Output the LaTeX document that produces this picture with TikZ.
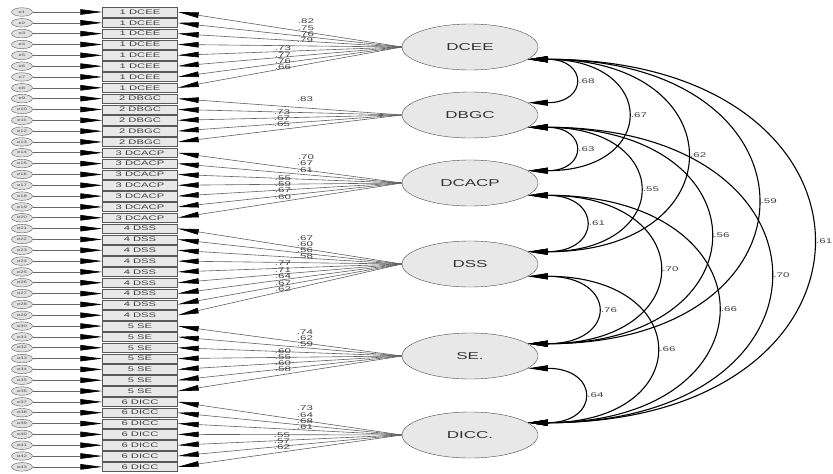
\documentclass[tikz,border=0pt]{standalone}
\usepackage{fontspec}
\setmainfont{Liberation Sans}[FakeStretch=1.7]
\usetikzlibrary{arrows.meta,shapes.geometric}

\begin{document}
\begin{tikzpicture}[x=1pt,y=-1pt,
  obs/.style={draw=black!65, fill=black!9, minimum width=75pt, minimum height=9.4pt,
    inner sep=0pt, font=\fontsize{6.6}{6.6}\selectfont, text=black!75},
  err/.style={ellipse, draw=black!65, fill=black!12, minimum width=21pt, minimum height=8.5pt,
    inner sep=0pt, font=\fontsize{3.5}{3.5}\selectfont, text=black!70},
  lat/.style={ellipse, draw=black!70, fill=black!9, minimum width=136pt, minimum height=46pt,
    inner sep=0pt, font=\fontsize{10}{10}\selectfont, text=black!80},
  load/.style={draw=black!62, line width=0.6pt, -{Triangle[length=21pt,width=5.5pt,color=black]}},
  errln/.style={draw=black!60, line width=0.6pt, -{Triangle[length=22pt,width=5.5pt,color=black]}},
  cov/.style={draw=black, line width=1.1pt,
    {Triangle[length=20pt,width=6pt]}-{Triangle[length=20pt,width=6pt]}},
  lab/.style={font=\fontsize{6.8}{6.8}\selectfont, text=black!75, inner sep=0pt},
]
\useasboundingbox[fill=white] (0,0) rectangle (833,474);

% indicators with their error terms
\foreach \t [count=\i from 0] in {
  1 DCEE,1 DCEE,1 DCEE,1 DCEE,1 DCEE,1 DCEE,1 DCEE,1 DCEE,
  2 DBGC,2 DBGC,2 DBGC,2 DBGC,2 DBGC,
  3 DCACP,3 DCACP,3 DCACP,3 DCACP,3 DCACP,3 DCACP,3 DCACP,
  4 DSS,4 DSS,4 DSS,4 DSS,4 DSS,4 DSS,4 DSS,4 DSS,4 DSS,
  5 SE,5 SE,5 SE,5 SE,5 SE,5 SE,5 SE,
  6 DICC,6 DICC,6 DICC,6 DICC,6 DICC,6 DICC,6 DICC} {
  \pgfmathsetmacro\yy{12+10.83*\i}
  \pgfmathtruncatemacro\en{\i+1}
  \node[obs] (b\i) at (140,\yy) {\t};
  \node[err] (e\i) at (22,\yy) {e\en};
  \draw[errln] (e\i) -- (b\i);
}

% latent factors
\node[lat] (DCEE)  at (470,47)  {DCEE};
\node[lat] (DBGC)  at (470,115) {DBGC};
\node[lat] (DCACP) at (470,183) {DCACP};
\node[lat] (DSS)   at (470,264) {DSS};
\node[lat] (SE)    at (470,356) {SE.};
\node[lat] (DICC)  at (470,435) {DICC.};

% factor loadings
\foreach \i in {0,...,7}   \draw[load] (DCEE.west)  -- (b\i.east);
\foreach \i in {8,...,12}  \draw[load] (DBGC.west)  -- (b\i.east);
\foreach \i in {13,...,19} \draw[load] (DCACP.west) -- (b\i.east);
\foreach \i in {20,...,28} \draw[load] (DSS.west)   -- (b\i.east);
\foreach \i in {29,...,35} \draw[load] (SE.west)    -- (b\i.east);
\foreach \i in {36,...,42} \draw[load] (DICC.west)  -- (b\i.east);

% loading estimates
\foreach \x/\y/\v in {
  306/21/.82, 306/28/.75, 306/34/.76, 305/40/.79, 283/48/.73, 283/55/.77, 283/61/.76, 283/67/.66,
  305/99/.83, 282/112/.73, 282/118/.67, 282/124/.65,
  306/157/.70, 305/163/.67, 305/170/.61, 283/178/.55, 283/184/.59, 283/190/.67, 283/197/.60,
  305/238/.67, 305/244/.60, 305/250/.56, 305/256/.58, 283/263/.77, 283/270/.71, 283/276/.64, 283/283/.67, 283/289/.62,
  305/332/.74, 305/338/.62, 305/344/.59, 283/351/.60, 283/357/.55, 283/363/.60, 283/369/.58,
  305/408/.73, 305/415/.64, 305/421/.68, 305/427/.61, 282/435/.55, 282/441/.57, 282/447/.62}
  \node[lab] at (\x,\y) {\v};

% factor covariances
\draw[cov] (DCEE.-12) .. controls +(60,0) and +(60,0) .. (DBGC.12)
  node[pos=0.5,right=5pt,lab] {.68};
\draw[cov] (DCEE.-12) .. controls +(130,0) and +(130,0) .. (DCACP.12)
  node[pos=0.5,right=5pt,lab] {.67};
\draw[cov] (DCEE.-12) .. controls +(209,0) and +(209,0) .. (DSS.12)
  node[pos=0.5,right=5pt,lab] {.62};
\draw[cov] (DCEE.-12) .. controls +(303,0) and +(303,0) .. (SE.12)
  node[pos=0.5,right=5pt,lab] {.59};
\draw[cov] (DCEE.-12) .. controls +(377,0) and +(377,0) .. (DICC.12)
  node[pos=0.5,right=5pt,lab] {.61};
\draw[cov] (DBGC.-12) .. controls +(60,0) and +(60,0) .. (DCACP.12)
  node[pos=0.5,right=5pt,lab] {.63};
\draw[cov] (DBGC.-12) .. controls +(146,0) and +(146,0) .. (DSS.12)
  node[pos=0.5,right=5pt,lab] {.55};
\draw[cov] (DBGC.-12) .. controls +(240,0) and +(240,0) .. (SE.12)
  node[pos=0.5,right=5pt,lab] {.56};
\draw[cov] (DBGC.-12) .. controls +(320,0) and +(320,0) .. (DICC.12)
  node[pos=0.5,right=5pt,lab] {.70};
\draw[cov] (DCACP.-12) .. controls +(74,0) and +(74,0) .. (DSS.12)
  node[pos=0.5,right=5pt,lab] {.61};
\draw[cov] (DCACP.-12) .. controls +(172,0) and +(172,0) .. (SE.12)
  node[pos=0.5,right=5pt,lab] {.70};
\draw[cov] (DCACP.-12) .. controls +(250,0) and +(250,0) .. (DICC.12)
  node[pos=0.5,right=5pt,lab] {.66};
\draw[cov] (DSS.-12) .. controls +(90,0) and +(90,0) .. (SE.12)
  node[pos=0.5,right=5pt,lab] {.76};
\draw[cov] (DSS.-12) .. controls +(168,0) and +(168,0) .. (DICC.12)
  node[pos=0.5,right=5pt,lab] {.66};
\draw[cov] (SE.-12) .. controls +(72,0) and +(72,0) .. (DICC.12)
  node[pos=0.5,right=5pt,lab] {.64};
\end{tikzpicture}
\end{document}
